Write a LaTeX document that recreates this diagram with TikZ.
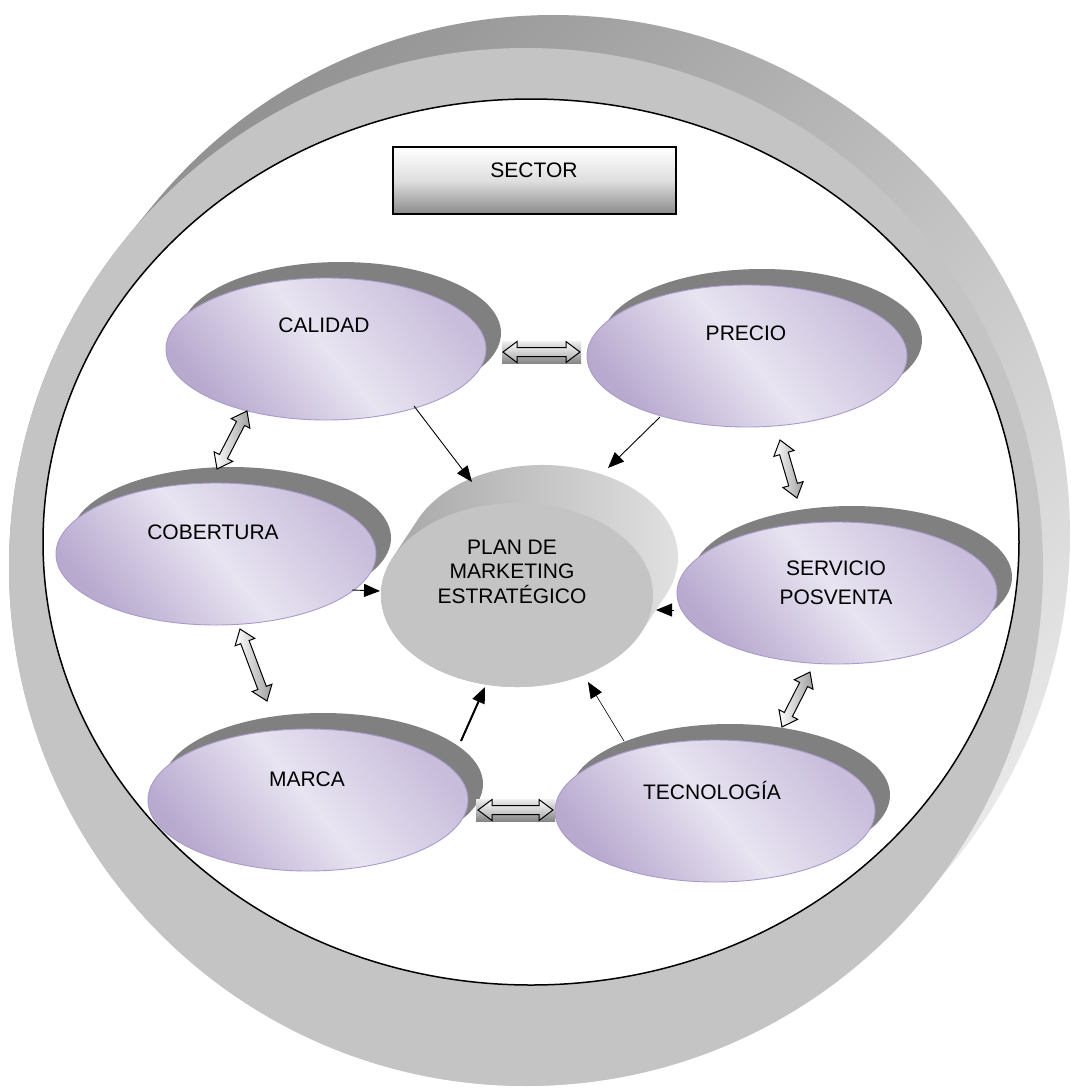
\documentclass[tikz,border=0pt]{standalone}
\usepackage{fontspec}
\setmainfont{Liberation Sans}
\usetikzlibrary{calc,shapes.geometric,arrows.meta}

\definecolor{ringface}{HTML}{C4C4C4}
\definecolor{ringdark}{HTML}{8C8C8C}
\definecolor{ringlight}{HTML}{F0F0F0}
\definecolor{shadowgray}{HTML}{808080}
\definecolor{lavlight}{HTML}{E8E4F1}
\definecolor{lavmid}{HTML}{C8BDDB}
\definecolor{lavdark}{HTML}{B8A9CF}
\definecolor{lavedge}{HTML}{AA9ACC}
\definecolor{cylface}{HTML}{C4C4C4}
\definecolor{cyldark}{HTML}{A2A2A2}
\definecolor{cyllight}{HTML}{E4E4E4}
\definecolor{boxdark}{HTML}{8A8A8A}

% hollow two-headed block arrow between two named points
\newcommand\hollowarrow[3][hollowside]{%
  \coordinate (ha) at ($(#2)!14pt!(#3)$);
  \coordinate (hb) at ($(#3)!14pt!(#2)$);
  \draw[hollow,#1] (#2) -- ($(ha)!10.5pt!-90:(#3)$) -- ($(ha)!4.5pt!-90:(#3)$)
    -- ($(hb)!4.5pt!90:(#2)$) -- ($(hb)!10.5pt!90:(#2)$) -- (#3)
    -- ($(hb)!10.5pt!-90:(#2)$) -- ($(hb)!4.5pt!-90:(#2)$)
    -- ($(ha)!4.5pt!90:(#3)$) -- ($(ha)!10.5pt!90:(#3)$) -- cycle;}

\begin{document}
\begin{tikzpicture}[x=1pt,y=1pt,
  lbl/.style={inner sep=0pt, text height=15pt, text depth=0pt,
    font=\fontsize{21}{25}\selectfont},
  topic/.style={ellipse, inner sep=0pt, minimum width=320pt, minimum height=142pt,
    draw=lavedge, line width=0.9pt,
    top color=lavmid, bottom color=lavdark, middle color=lavlight, shading angle=-50},
  topicshadow/.style={ellipse, inner sep=0pt, minimum width=320pt, minimum height=142pt,
    fill=shadowgray},
  feed/.style={-{Triangle[length=16pt,width=13pt]}, line width=0.9pt},
  hollow/.style={line width=1pt, draw=black},
  hollowside/.style={left color=white, right color=gray!75},
  hollowflat/.style={top color=white, bottom color=gray!70},
]
\useasboundingbox (0,0) rectangle (1071,-1088);
\fill[white] (0,0) rectangle (1071,-1088);

% ---- outer ring ----
\coordinate (ringF) at (526,-567);
\coordinate (ringB) at (553,-534);
\shade[top color=ringdark, bottom color=ringlight, shading angle=45]
  ($(ringF)+(-39.3:517pt and 519pt)$) -- ($(ringB)+(-39.3:517pt and 519pt)$)
  arc[start angle=-39.3, end angle=140.7, x radius=517pt, y radius=519pt]
  -- ($(ringF)+(140.7:517pt and 519pt)$)
  arc[start angle=140.7, end angle=320.7, x radius=517pt, y radius=519pt] -- cycle;
\fill[ringface] (ringF) ellipse[x radius=517pt, y radius=519pt];
\filldraw[fill=white, draw=black, line width=1.5pt] (531,-542) ellipse[x radius=488pt, y radius=443pt];

% ---- sector box ----
\node[draw=black, line width=1.5pt, minimum width=283pt, minimum height=67pt, inner sep=0pt,
  top color=white, bottom color=boxdark, middle color=gray!25] (sector) at (534.5,-180.5) {};
\node[lbl] (sectorT) at (534,-170) {SECTOR};

% ---- central cylinder ----
\coordinate (pf) at (517,-595);
\coordinate (pb) at (542,-557);
\shade[left color=cyldark, right color=cyllight]
  ($(pf)+(-24:136pt and 92pt)$) -- ($(pb)+(-24:136pt and 92pt)$)
  arc[start angle=-24, end angle=156, x radius=136pt, y radius=92pt]
  -- ($(pf)+(156:136pt and 92pt)$)
  arc[start angle=156, end angle=336, x radius=136pt, y radius=92pt] -- cycle;
\node[ellipse, inner sep=0pt, minimum width=272pt, minimum height=184pt] (planB) at (pb) {};
\node[ellipse, inner sep=0pt, minimum width=272pt, minimum height=184pt, fill=cylface] (plan) at (pf) {};
\node[inner sep=0pt, align=center, font=\fontsize{21}{24.5}\selectfont] (planT) at (512,-571.5)
  {PLAN DE\\MARKETING\\ESTRATÉGICO};

% ---- topic ellipses with shadows ----
\node[topicshadow] (calS) at (341,-333) {};
\node[topicshadow] (preS) at (762,-340) {};
\node[topicshadow] (cobS) at (231,-538) {};
\node[topicshadow] (serS) at (852,-577) {};
\node[topicshadow] (marS) at (323,-784) {};
\node[topicshadow] (tecS) at (730,-795) {};

\node[topic] (cal) at (326,-349) {};
\node[topic] (pre) at (747,-356) {};
\node[topic] (cob) at (216,-554) {};
\node[topic] (ser) at (837,-593) {};
\node[topic] (mar) at (308,-800) {};
\node[topic] (tec) at (715,-811) {};

\node[lbl] (calT) at (324,-325) {CALIDAD};
\node[lbl] (preT) at (746,-333) {PRECIO};
\node[lbl] (cobT) at (213,-532) {COBERTURA};
\node[lbl] (marT) at (307,-779) {MARCA};
\node[lbl] (tecT) at (712,-792) {TECNOLOGÍA};
\node[inner sep=0pt, align=center, font=\fontsize{21}{29}\selectfont] (serT) at (836,-582.5)
  {SERVICIO\\POSVENTA};

% ---- arrows into the plan ----
\coordinate (calOut) at (414,-406);  \coordinate (calIn) at (472,-482);
\coordinate (preOut) at (660,-417);  \coordinate (preIn) at (608,-468);
\coordinate (cobOut) at (352,-590);  \coordinate (cobIn) at (380,-591);
\coordinate (serOut) at (674,-610);  \coordinate (serIn) at (656,-610);
\coordinate (marOut) at (461,-741);  \coordinate (marIn) at (485,-687);
\coordinate (tecOut) at (624,-741);  \coordinate (tecIn) at (588,-682);
\draw[feed] (calOut) -- (calIn);
\draw[feed] (preOut) -- (preIn);
\draw[feed] (cobOut) -- (cobIn);
\draw[feed] (serOut) -- (serIn);
\draw[feed, line width=2pt] (marOut) -- (marIn);
\draw[feed, line width=0.6pt] (tecOut) -- (tecIn);

% ---- two-way links between neighbours ----
\coordinate (calPre1) at (503,-352); \coordinate (calPre2) at (580,-352);
\coordinate (marTec1) at (478,-810); \coordinate (marTec2) at (553,-810);
\shade[top color=gray!12, bottom color=gray!95] (502,-341) rectangle (581,-363);
\shade[top color=gray!12, bottom color=gray!95] (476,-799) rectangle (555,-821);
\hollowarrow[hollowflat]{calPre1}{calPre2}
\hollowarrow[hollowflat]{marTec1}{marTec2}

\coordinate (calCob1) at (247,-411); \coordinate (calCob2) at (217,-469);
\coordinate (cobMar1) at (240,-629); \coordinate (cobMar2) at (267,-701);
\coordinate (preSer1) at (780,-440); \coordinate (preSer2) at (797,-498);
\coordinate (serTec1) at (810,-672); \coordinate (serTec2) at (782,-727);
\hollowarrow{calCob1}{calCob2}
\hollowarrow{cobMar1}{cobMar2}
\hollowarrow{preSer1}{preSer2}
\hollowarrow{serTec1}{serTec2}
\end{tikzpicture}
\end{document}
